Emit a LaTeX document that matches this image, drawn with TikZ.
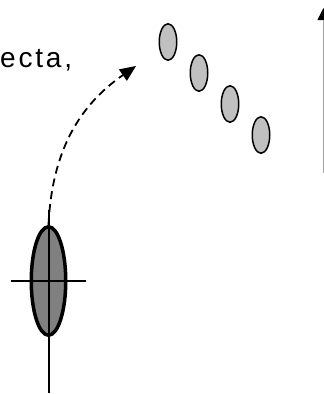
\documentclass[tikz,border=0pt]{standalone}
\usepackage{fontspec}
\setmainfont{Liberation Sans}
\newfontfamily\textoesp[LetterSpace=10]{Liberation Sans}
\usepackage{tikz}
\usetikzlibrary{arrows.meta, shapes.geometric, positioning}
\definecolor{cinzaC}{RGB}{192,192,192}
\definecolor{cinzaE}{RGB}{128,128,128}

\begin{document}
\begin{tikzpicture}[x=1pt, y=-1pt,
    elipseP/.style={ellipse, draw=black, fill=cinzaC, line width=1.5pt, minimum width=17.5pt, minimum height=36.5pt, inner sep=0pt},
    elipseG/.style={ellipse, draw=black, fill=cinzaE, line width=3.5pt, minimum width=34.5pt, minimum height=108.5pt, inner sep=0pt},
    eixo/.style={line width=2pt, black},
    setaT/.style={-{Triangle[length=16pt, width=14pt, line width=0pt]}, dash pattern=on 8pt off 5pt, line width=1.8pt},
    setaV/.style={-{Triangle[length=12pt, width=12pt, color=black]}, line width=1pt, black!35}
  ]
    \useasboundingbox (0,0) rectangle (324,394);

    % texto cortado
    \node[anchor=base west, inner sep=0pt, font=\textoesp\fontsize{28}{30}\selectfont] (texto) at (0,67) {ecta,};

    % pequenas elipses
    \foreach \i in {0,...,3}
      \node[elipseP] (p\i) at (168+31*\i, 42+31*\i) {};

    % elipse grande e eixos
    \node[elipseG] (g) at (48.5,281) {};
    \coordinate (gC) at (49,210);
    \coordinate (gB) at (49,393);
    \coordinate (gE) at (11,281);
    \coordinate (gD) at (86,281);
    \draw[eixo] (gC) -- (gB);
    \draw[eixo] (gE) -- (gD);

    % trajectoria
    \coordinate (fim) at (136,66);
    \draw[setaT] (g.north) .. controls (52,150) and (80,105) .. (fim);

    % seta vertical
    \coordinate (vB) at (323.5,173);
    \coordinate (vC) at (323.5,8);
    \draw[setaV] (vB) -- (vC);
  \end{tikzpicture}
\end{document}
